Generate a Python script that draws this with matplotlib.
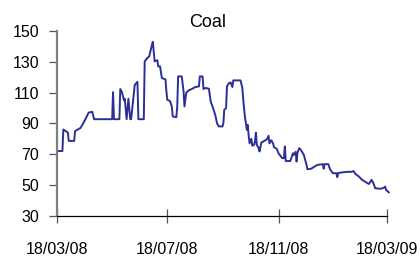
import matplotlib
matplotlib.use("Agg")
import matplotlib.pyplot as plt
import pandas as pd

plt.rcParams['font.family'] = ['Liberation Sans', 'DejaVu Sans']

title = "Coal"
start_date = "2008-03-18"
# days since start date
days = [0,6,7,12,13,19,20,26,29,32,
        35,39,41,61,62,63,69,70,72,74,
        75,77,79,81,82,86,89,90,96,97,
        100,102,105,106,108,111,112,114,116,120,
        121,122,125,127,128,132,133,134,138,140,
        141,143,146,149,153,157,158,161,162,164,
        168,170,172,175,177,179,183,184,185,187,
        188,190,192,194,195,203,205,206,208,209,
        210,211,212,213,215,216,218,219,220,221,
        223,224,226,229,232,234,235,237,239,240,
        243,245,249,251,252,253,258,261,262,264,
        265,266,268,270,273,276,277,281,288,294,
        295,296,300,302,305,309,310,311,321,326,
        328,330,334,337,341,345,348,350,352,358,
        361,363,364,367]
values = [72,72,86,84,78.6,78.6,85,87,90,93.4,
          97,97.5,92.7,92.7,110.3,92.7,92.7,112.3,110,105,
          106,92.7,106,92.7,92.7,115,117,92.7,92.7,130.3,
          132.5,133.5,141,143,130.3,131,127,127,119.4,118.5,
          110.7,105.3,104.5,101,94.5,94,101,120.5,120.5,110.7,
          101,110,111.5,112.3,113.6,114,120.5,120.5,112.3,113,
          112.5,104.2,101,95.6,90.1,88,88,90,98.8,99.9,
          114,116,116.6,113.6,117.9,117.9,113,105.3,93.4,90,
          85.8,89,82,77,80,75.5,76,78.5,84,76,
          74,71.7,77.5,78.5,79.5,81.9,77,79,77,74.5,
          73.5,70.6,67.4,67.4,75,65.5,65.5,70.6,69.5,71.5,
          65.2,71,73.9,72.5,69.5,63,60.2,60.5,63,63.5,
          60.5,63.5,63.5,60.2,57.6,57.6,55,57.8,58.5,58.5,
          59,57.2,55.4,53.5,52,50.6,53.3,51,47.8,47.5,
          48,48.9,46.7,45.2]
xtick_dates = ["2008-03-18", "2008-07-18", "2008-11-18", "2009-03-18"]
xtick_labels = ["18/03/08", "18/07/08", "18/11/08", "18/03/09"]
yticks = [30, 50, 70, 90, 110, 130, 150]

dates = pd.Timestamp(start_date) + pd.to_timedelta(days, unit="D")

fig = plt.figure(figsize=(4.2, 2.57), dpi=100)
ax = fig.add_axes([57/420, 1-215.7/257, 330/420, (215.7-31)/257])
ax.plot(dates, values, color="#2B2F96", lw=1.4, clip_on=False)

ax.set_ylim(30, 150)
ax.set_yticks(yticks)
xt = pd.to_datetime(xtick_dates)
ax.set_xlim(xt[0], xt[-1])
ax.set_xticks(xt)
ax.set_xticklabels(xtick_labels)

for s in ["top", "right"]:
    ax.spines[s].set_visible(False)
ax.spines["left"].set_color("#7f7f7f")
ax.spines["left"].set_linewidth(1.6)
ax.spines["bottom"].set_color("black")
ax.spines["bottom"].set_linewidth(0.9)

ax.tick_params(axis="y", direction="out", length=5.8, width=0.9, color="#555555",
               labelsize=11.5, pad=7)
ax.tick_params(axis="x", direction="inout", length=10.4, width=0.9, color="#555555",
               labelsize=11.5, pad=13.5)

fig.text(208/420, 1-22.7/257, title, ha="center", va="center", fontsize=13)

fig.savefig("out.png", dpi=100)
